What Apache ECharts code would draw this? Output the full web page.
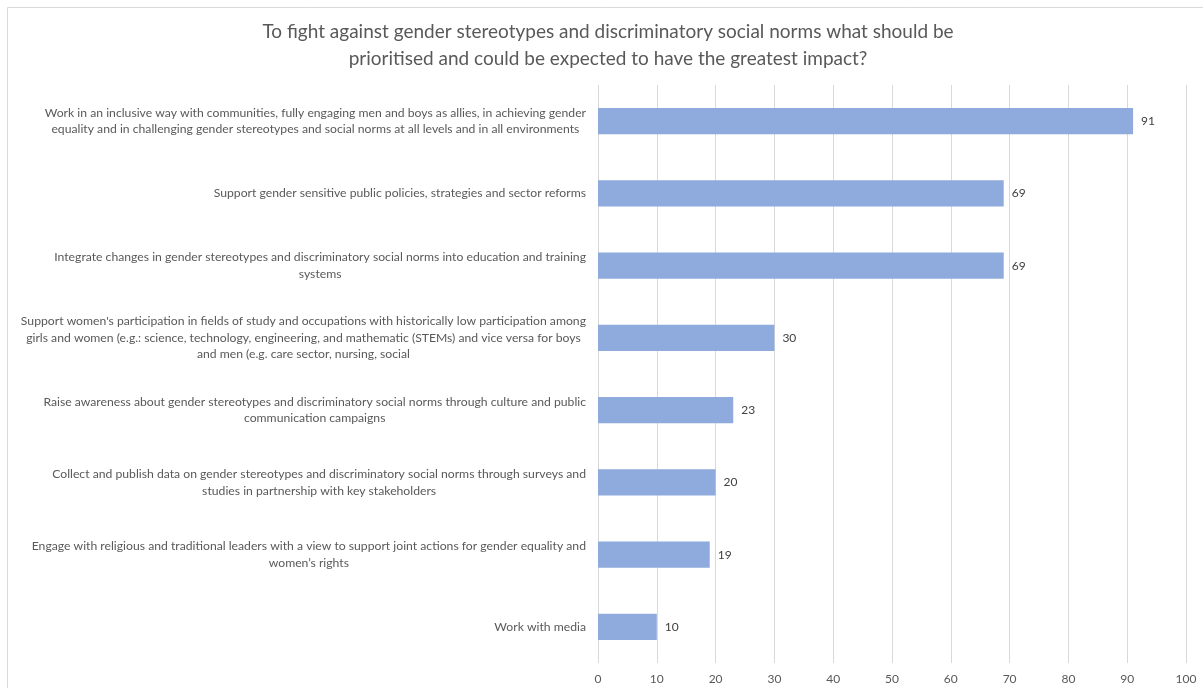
<!DOCTYPE html>
<html>
<head>
<meta charset="utf-8">
<script src="https://cdn.jsdelivr.net/npm/echarts@6/dist/echarts.min.js"></script>
<style>
html,body{margin:0;padding:0;background:#fff;}
#chart{width:1203px;height:688px;}
</style>
</head>
<body>
<div id="chart"></div>
<script>
var titleText = "To fight against gender stereotypes and discriminatory social norms what should be\nprioritised and could be expected to have the greatest impact?";
var categories = [
  "Work in an inclusive way with communities, fully engaging men and boys as allies, in achieving gender\nequality and in challenging gender stereotypes and social norms at all levels and in all environments",
  "Support gender sensitive public policies, strategies and sector reforms",
  "Integrate changes in gender stereotypes and discriminatory social norms into education and training\nsystems",
  "Support women's participation in fields of study and occupations with historically low participation among\ngirls and women (e.g.: science, technology, engineering, and mathematic (STEMs) and vice versa for boys\nand men (e.g. care sector, nursing, social",
  "Raise awareness about gender stereotypes and discriminatory social norms through culture and public\ncommunication campaigns",
  "Collect and publish data on gender stereotypes and discriminatory social norms through surveys and\nstudies in partnership with key stakeholders",
  "Engage with religious and traditional leaders with a view to support joint actions for gender equality and\nwomen\u2019s rights",
  "Work with media"
];
var values = [91, 69, 69, 30, 23, 20, 19, 10];
var axisMin = 0, axisMax = 100, axisInterval = 10;

var FONT = 'Lato, "Liberation Sans", sans-serif';
var chart = echarts.init(document.getElementById('chart'), null, {renderer: 'canvas'});
chart.setOption({
  backgroundColor: '#ffffff',
  animation: false,
  graphic: [{
    type: 'rect',
    shape: {x: 7.5, y: 7.5, width: 1210, height: 700},
    style: {fill: 'none', stroke: '#D9D9D9', lineWidth: 1},
    silent: true, z: -1
  }],
  title: {
    text: titleText,
    left: 603, top: 13,
    textAlign: 'center',
    textStyle: {fontFamily: FONT, fontSize: 19, fontWeight: 'normal', color: '#595959', lineHeight: 27, align: 'center'}
  },
  grid: {left: 598, right: 17, top: 85, bottom: 25, containLabel: false},
  xAxis: {
    type: 'value', min: axisMin, max: axisMax, interval: axisInterval,
    axisLine: {show: false}, axisTick: {show: false},
    splitLine: {lineStyle: {color: '#D9D9D9', width: 1}},
    axisLabel: {fontFamily: FONT, fontSize: 12, color: '#595959', margin: 10}
  },
  yAxis: {
    type: 'category', data: categories, inverse: true,
    axisLine: {show: false}, axisTick: {show: false},
    axisLabel: {
      margin: 12,
      formatter: function (v) { return v.split('\n').map(function (l) { return '{c|' + l + '}'; }).join('\n'); },
      rich: {c: {align: 'center', fontFamily: FONT, fontSize: 12.2, color: '#595959', lineHeight: 16.5}}
    }
  },
  series: [{
    type: 'bar', data: values, barWidth: '36%',
    itemStyle: {color: '#8FAADC'},
    label: {show: true, position: 'right', distance: 8, fontFamily: FONT, fontSize: 12, color: '#404040'}
  }]
});
</script>
</body>
</html>
